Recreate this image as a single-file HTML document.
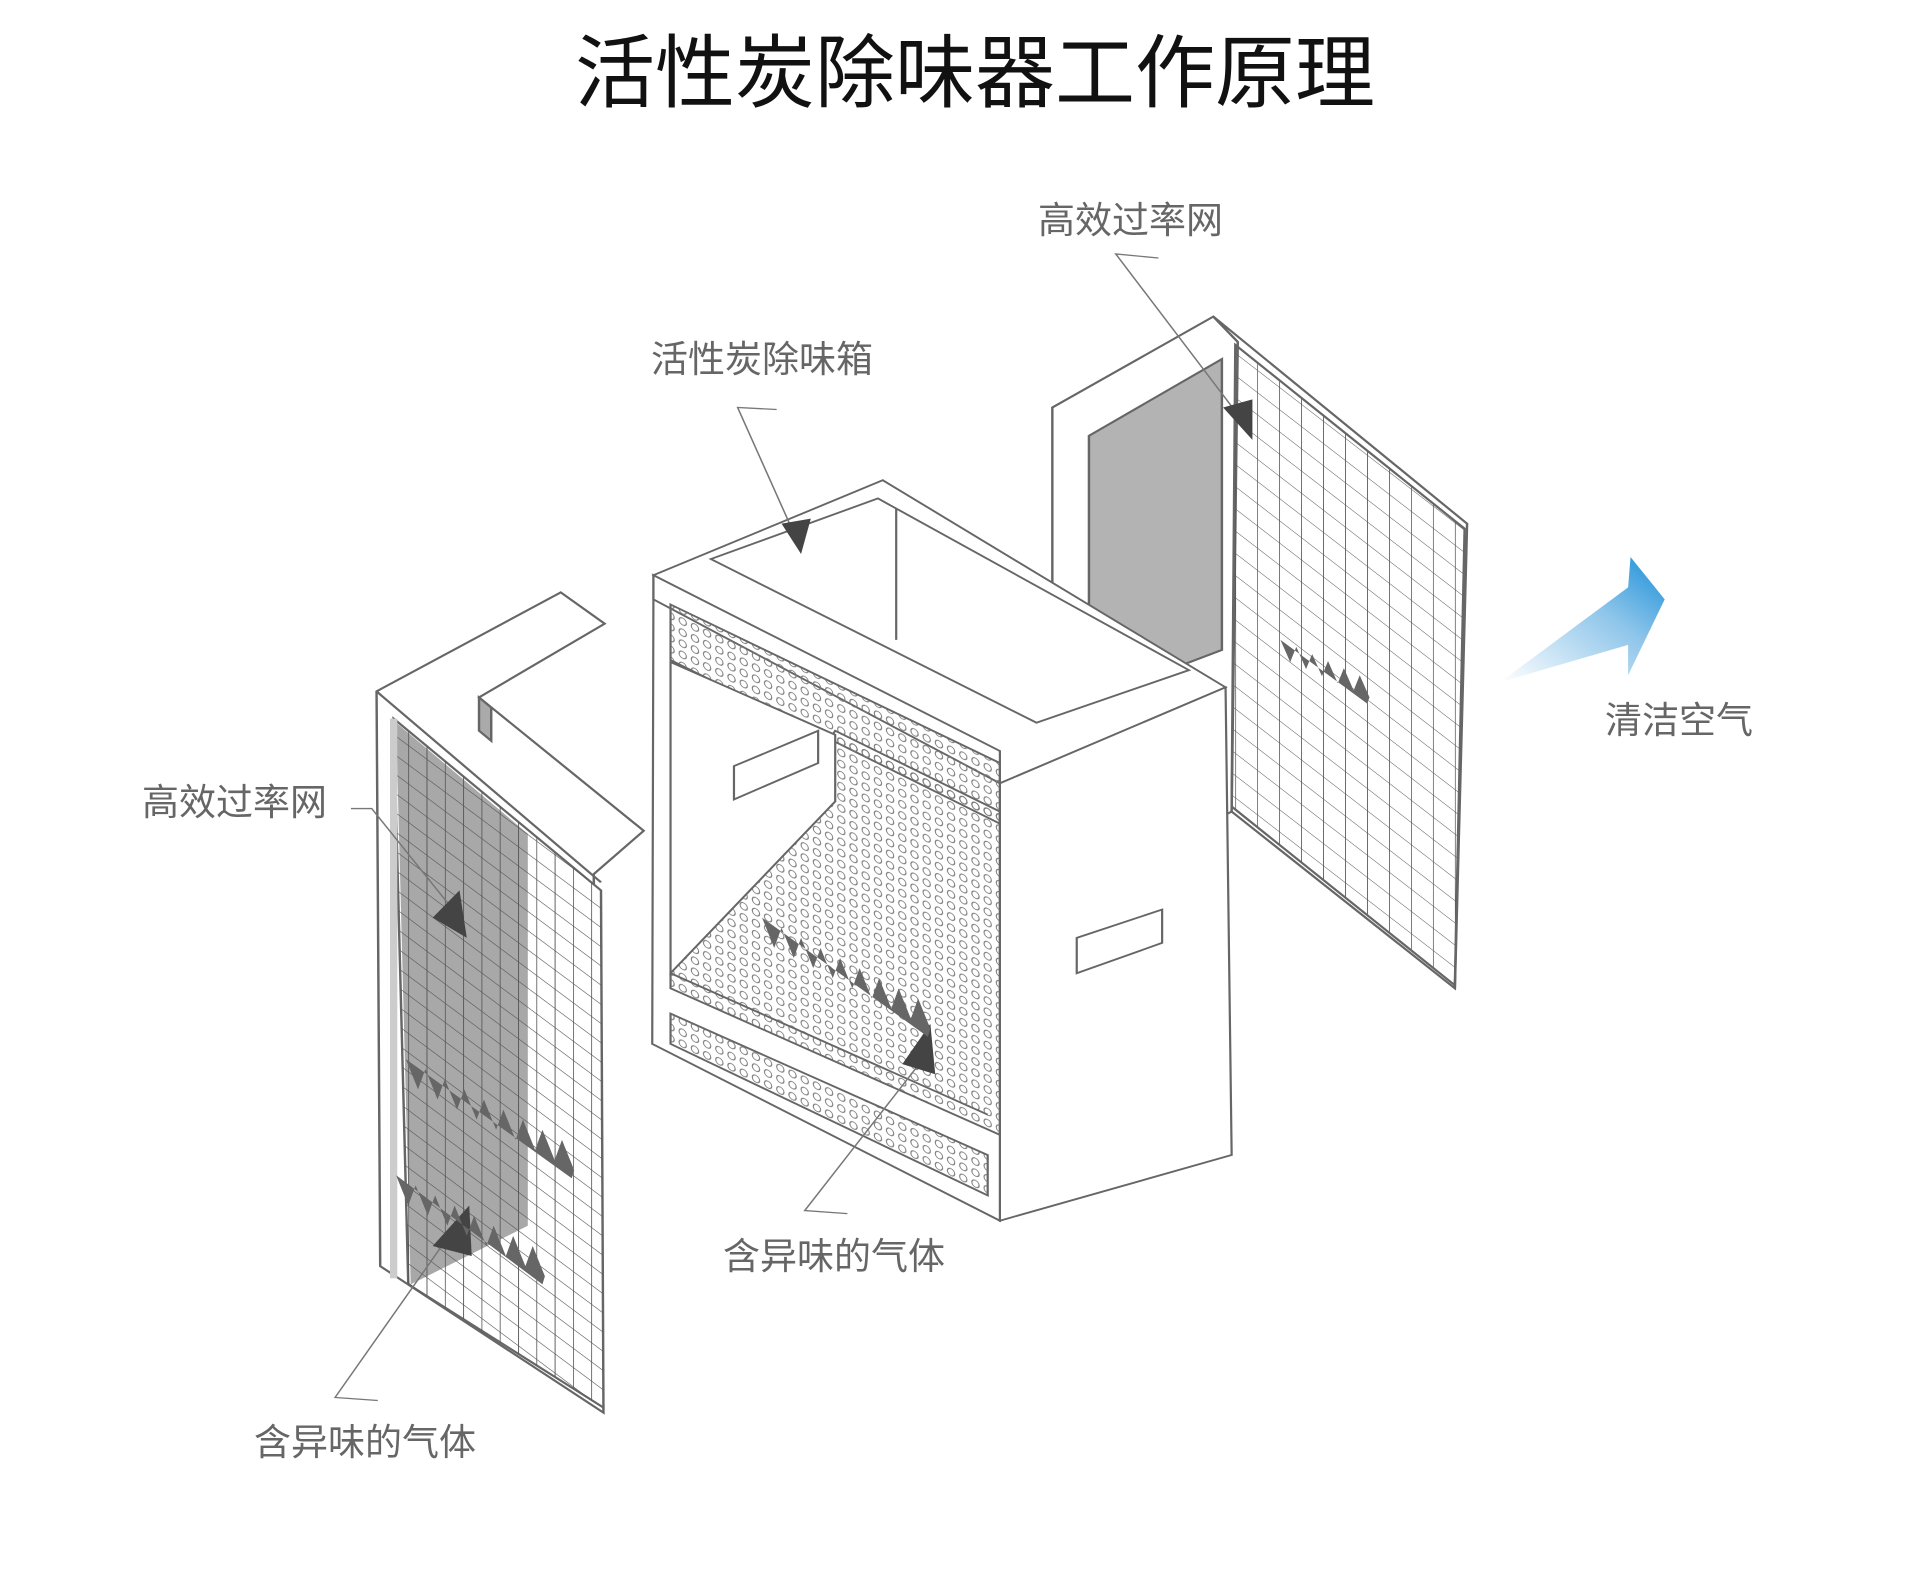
<!DOCTYPE html>
<html><head><meta charset="utf-8"><style>
html,body{margin:0;padding:0;background:#fff;overflow:hidden;}
.wrap{position:relative;width:1920px;height:1589px;}
svg{display:block;position:absolute;left:0;top:0;}
</style></head><body><div class="wrap">
<svg width="1920" height="1589" viewBox="-4.7 -3.4 1574 1573" preserveAspectRatio="none" xmlns="http://www.w3.org/2000/svg">
<defs>
<pattern id="gridL" width="15" height="19" patternUnits="userSpaceOnUse" patternTransform="skewY(42)">
<path d="M0 0V19M0 0H15" fill="none" stroke="#555" stroke-width="1.4"/></pattern>
<pattern id="gridR" width="18" height="22" patternUnits="userSpaceOnUse" patternTransform="skewY(43)">
<path d="M0 0V22M0 0H18" fill="none" stroke="#555" stroke-width="1.3"/></pattern>
<pattern id="perf" width="10" height="11" patternUnits="userSpaceOnUse" patternTransform="skewY(30)">
<ellipse cx="5" cy="5.5" rx="3" ry="3.4" fill="none" stroke="#777" stroke-width="0.9"/></pattern>
<linearGradient id="blue" x1="0" y1="1" x2="1" y2="0">
<stop offset="0" stop-color="#ffffff"/><stop offset="0.6" stop-color="#8ec5ea"/><stop offset="1" stop-color="#1a8fd8"/></linearGradient>
<clipPath id="cL"><polygon points="318,708 488,878 490,1390 330,1268"/></clipPath>
<clipPath id="cR"><polygon points="1008,338 1196,520 1188,972 1005,795"/></clipPath>
</defs>
<g stroke="#666" stroke-width="2" fill="#fff">
<polygon points="858,400 990,310 1010,335 1005,800 890,870 858,850"/>
<polygon points="888,428 997,352 997,640 888,690" fill="#b3b3b3"/>
<polygon points="990,310 1198,515 1188,975 1005,800 1010,335" fill="#fff"/>
<rect x="1000" y="330" width="200" height="650" fill="url(#gridR)" clip-path="url(#cR)" stroke="none"/>
<polygon points="1008,338 1196,520 1188,972 1005,795" fill="none"/>
</g>
<g stroke="#666" stroke-width="1.8" fill="#fff">
<polygon points="531,566 719,472 1000,677 815,772" fill="#fff"/>
<polygon points="578,550 715,490 970,660 845,712" fill="#fff"/>
<line x1="730" y1="500" x2="730" y2="630"/>
<polygon points="815,772 1000,677 1005,1140 815,1205"/>
<polygon points="531,566 815,772 815,1205 530,1030"/>
<polygon points="531,566 815,740 815,772 531,590" fill="#fff"/>
<polygon points="545,595 815,752 815,812 545,650" fill="url(#perf)"/>
<polygon points="680,720 815,800 815,1120 545,975 545,960" fill="url(#perf)"/>
<polygon points="545,1000 805,1140 805,1180 545,1030" fill="url(#perf)"/>
<polygon points="545,652 680,724 680,790 545,960" fill="#fff"/>
<polygon points="597,755 666,720 666,752 597,788" fill="#fff"/>
<polygon points="878,925 948,897 948,930 878,960" fill="#fff"/>
<line x1="545" y1="960" x2="805" y2="1100"/>
</g>
<g stroke="#666" stroke-width="2" fill="#fff">
<polygon points="304,681 455,583 491,614 388,687 523,819 482,862 490,1395 307,1250"/>
<line x1="304" y1="681" x2="488" y2="870"/>
<polygon points="318,708 488,878 490,1390 330,1268" fill="#fff"/>
<polygon points="320,712 428,822 428,1210 332,1268" fill="#a8a8a8" stroke="none"/>
<rect x="300" y="680" width="200" height="720" fill="url(#gridL)" clip-path="url(#cL)" stroke="none"/>
<polygon points="388,687 398,697 398,730 388,720" fill="#aaa"/>
<line x1="318" y1="708" x2="318" y2="1262" stroke="#ccc" stroke-width="6"/>
</g>
<polygon points="1225,672 1330,635 1330,665 1360,590 1332,548 1330,578" fill="url(#blue)"/>
<g stroke="#777" stroke-width="1.3" fill="none">
<polyline points="945,252 910,248 1012,410"/>
<polyline points="632,402 600,400 650,535"/>
<polyline points="283,797 300,797 372,905"/>
<polyline points="690,1198 655,1195 752,1045"/>
<polyline points="305,1383 270,1380 372,1205"/>
</g>
<g fill="#444">
<polygon points="998,400 1022,392 1022,432"/>
<polygon points="636,515 660,510 652,545"/>
<polygon points="350,905 372,878 378,925"/>
<polygon points="735,1050 758,1010 762,1060"/>
<polygon points="350,1230 380,1190 382,1240"/>
</g>
<g fill="#666">
<path d="M620,905 l10,30 l6,-20 l10,30 l6,-20 l10,30 l6,-20 l10,30 l6,-20 l10,30 l6,-20 l10,30 l6,-20 l10,30 l6,-20 l10,30 l6,-20 l10,30 l-2,8 z"/>
<path d="M328,1045 l10,30 l6,-20 l10,30 l6,-20 l10,30 l6,-20 l10,30 l6,-20 l10,30 l6,-20 l10,30 l6,-20 l10,30 l6,-20 l10,30 l6,-20 l10,30 l-2,8 z"/>
<path d="M320,1160 l10,30 l6,-20 l10,30 l6,-20 l10,30 l6,-20 l10,30 l6,-20 l10,30 l6,-20 l10,30 l6,-20 l10,30 l6,-20 l10,30 l-2,8 z"/>
<path d="M1045,630 l8,22 l5,-15 l8,22 l5,-15 l8,22 l5,-15 l8,22 l5,-15 l8,22 l5,-15 l8,22 l-2,6 z"/>
</g>
</svg>
<svg width="1920" height="1589" viewBox="0 0 1920 1589" xmlns="http://www.w3.org/2000/svg">
<text x="975" y="101" font-family="Liberation Sans, Noto Sans CJK SC, sans-serif" font-size="80" text-anchor="middle" fill="#111">活性炭除味器工作原理</text>
<g font-family="Liberation Sans, Noto Sans CJK SC, sans-serif" font-size="37" fill="#666">
<text x="1038" y="233">高效过率网</text>
<text x="651" y="372">活性炭除味箱</text>
<text x="142" y="815">高效过率网</text>
<text x="1605" y="733">清洁空气</text>
<text x="723" y="1269">含异味的气体</text>
<text x="254" y="1455">含异味的气体</text>
</g>
</svg>
</div></body></html>
